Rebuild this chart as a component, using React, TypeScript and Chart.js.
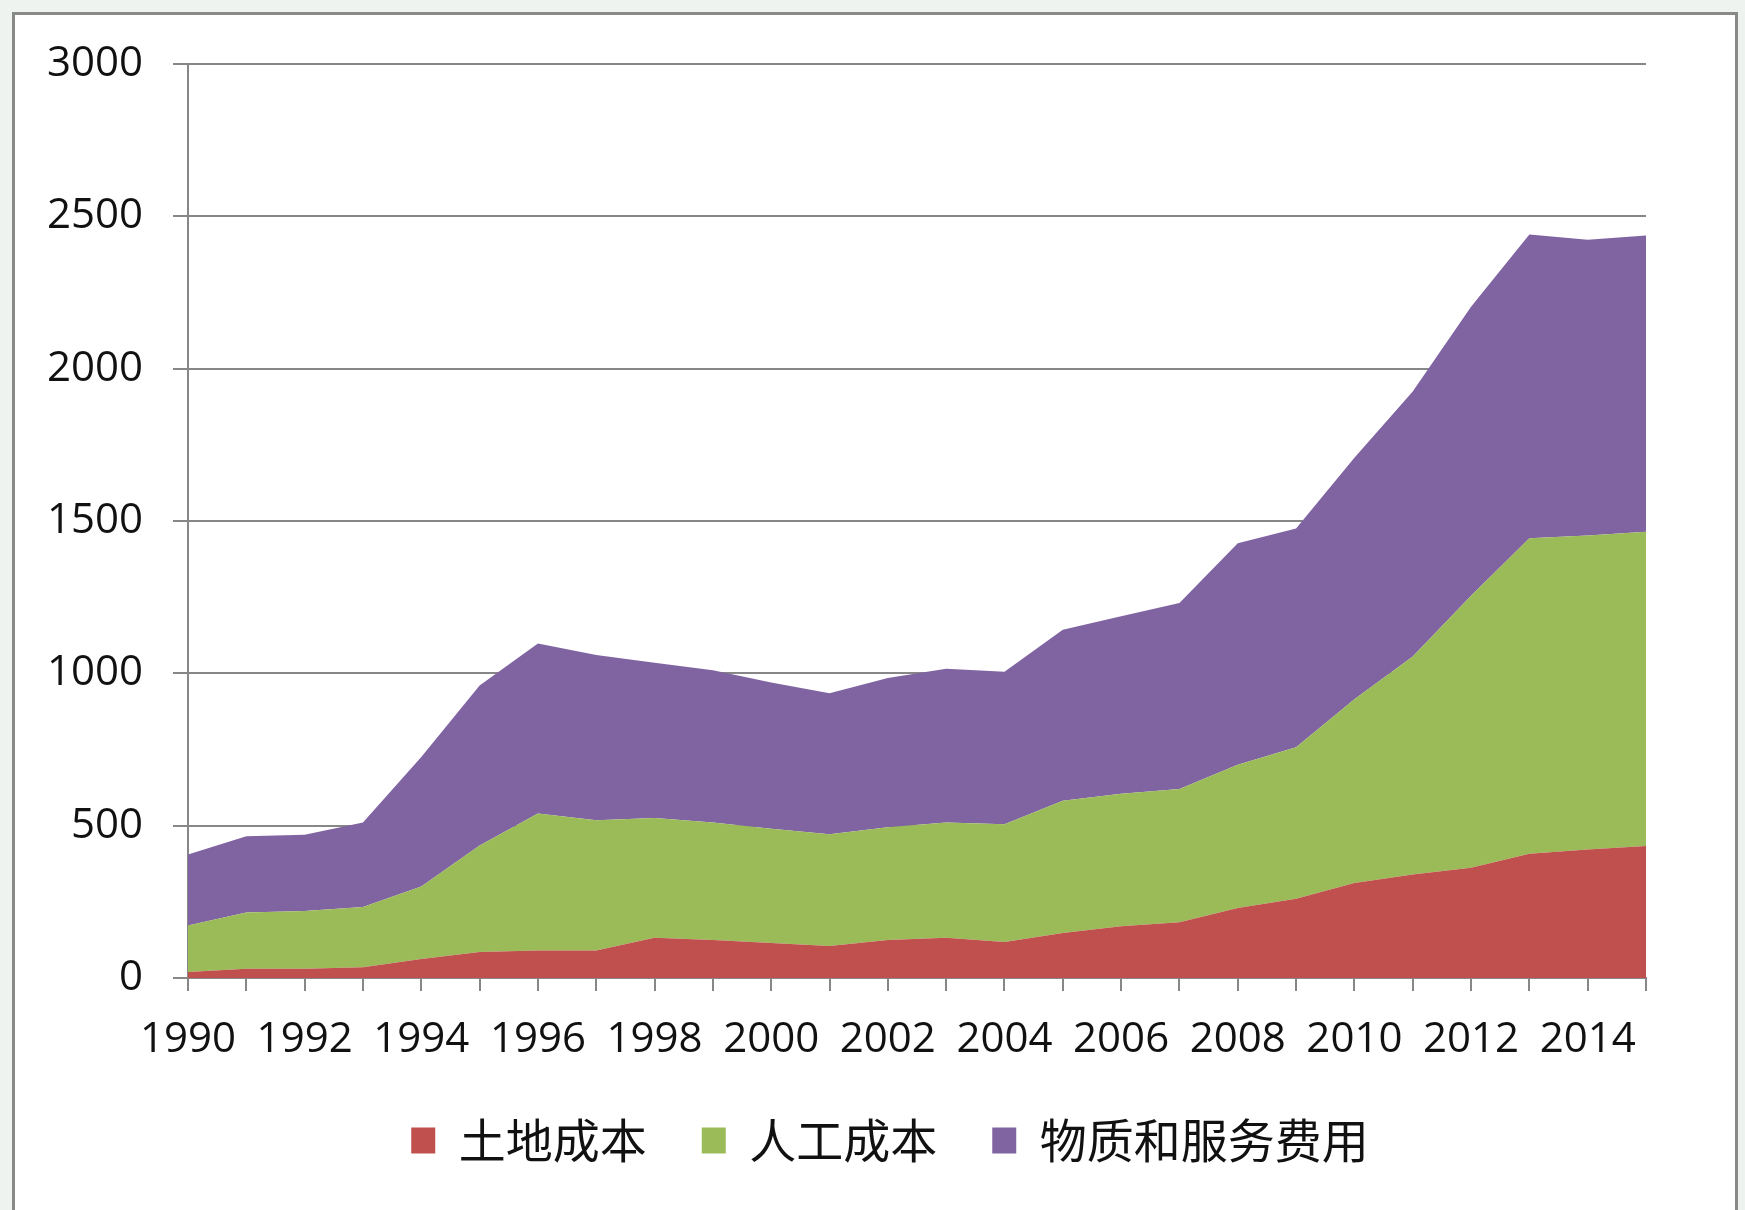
import React, { useEffect, useRef } from 'react';
import { Chart, registerables } from 'chart.js';

Chart.register(...registerables);

const years = [
  '1990', '1991', '1992', '1993', '1994', '1995', '1996', '1997', '1998', '1999',
  '2000', '2001', '2002', '2003', '2004', '2005', '2006', '2007', '2008', '2009',
  '2010', '2011', '2012', '2013', '2014', '2015',
];

// 土地成本
const landCost = [
  20, 30, 30, 35, 62, 85, 90, 90, 132, 125,
  115, 105, 125, 132, 118, 148, 170, 183, 230, 260,
  312, 340, 362, 408, 422, 433,
];

// 人工成本
const laborCost = [
  152, 185, 190, 198, 238, 350, 450, 428, 393, 385,
  375, 367, 370, 378, 387, 434, 435, 437, 470, 497,
  603, 715, 893, 1035, 1030, 1032,
];

// 物质和服务费用
const materialCost = [
  233, 250, 250, 277, 425, 525, 558, 542, 510, 500,
  480, 463, 490, 505, 500, 561, 582, 611, 727, 718,
  793, 870, 948, 997, 971, 972,
];

const seriesNames = ['土地成本', '人工成本', '物质和服务费用'];
const seriesColors = ['#C0504D', '#9BBB59', '#8064A2'];

const yMin = 0;
const yMax = 3000;
const yStep = 500;

const GRID = '#878787';
const LEGEND_SHIFT = 67;

const legendShift = {
  id: 'legendShift',
  afterLayout(chart: any) {
    const lg = chart.legend;
    if (lg) {
      lg.left += LEGEND_SHIFT;
      lg.right += LEGEND_SHIFT;
    }
  },
};

export default function App() {
  const canvasRef = useRef<HTMLCanvasElement | null>(null);

  useEffect(() => {
    const canvas = canvasRef.current;
    if (!canvas) return;
    const values = [landCost, laborCost, materialCost];
    const chart = new Chart(canvas, {
      type: 'line',
      data: {
        labels: years,
        datasets: seriesNames.map((name, i) => ({
          label: name,
          data: values[i],
          backgroundColor: seriesColors[i],
          borderColor: seriesColors[i],
          borderWidth: 0,
          pointRadius: 0,
          pointHoverRadius: 0,
          tension: 0,
          fill: i === 0 ? 'origin' : '-1',
        })),
      },
      plugins: [legendShift],
      options: {
        animation: false,
        responsive: false,
        maintainAspectRatio: false,
        layout: { padding: { left: 0, right: 99, top: 64, bottom: 126 } },
        plugins: {
          tooltip: { enabled: false },
          legend: {
            position: 'bottom',
            labels: {
              color: '#111',
              font: { family: '"Noto Sans CJK SC", sans-serif', size: 47 },
              boxWidth: 24,
              boxHeight: 26,
              padding: 55,
            },
          },
        },
        scales: {
          x: {
            type: 'category',
            offset: false,
            afterFit: (s: any) => {
              s.height = 84;
            },
            grid: {
              drawOnChartArea: false,
              drawTicks: true,
              tickLength: 13,
              color: GRID,
              lineWidth: 2,
            },
            border: { display: true, color: GRID, width: 2 },
            ticks: {
              autoSkip: false,
              maxRotation: 0,
              minRotation: 0,
              padding: 24,
              color: '#111',
              font: { family: '"Open Sans", sans-serif', size: 42 },
              callback: (_v: any, idx: number) => (idx % 2 === 0 ? years[idx] : ''),
            },
          },
          y: {
            stacked: true,
            min: yMin,
            max: yMax,
            afterFit: (s: any) => {
              s.width = 188;
            },
            grid: {
              color: GRID,
              lineWidth: 2,
              tickLength: 15,
              drawTicks: true,
            },
            border: { display: true, color: GRID, width: 2 },
            ticks: {
              stepSize: yStep,
              padding: 30,
              color: '#111',
              font: { family: '"Open Sans", sans-serif', size: 42 },
              callback: (v: any) => String(v),
            },
          },
        },
      },
    });
    return () => chart.destroy();
  }, []);

  return (
    <div
      style={{
        position: 'absolute',
        left: 0,
        top: 0,
        width: 1745,
        height: 1210,
        background: '#EEF3EF',
        overflow: 'hidden',
      }}
    >
      <div
        style={{
          position: 'absolute',
          left: 12,
          top: 12,
          width: 1745 - 12 - 7,
          height: 1300,
          background: '#FFFFFF',
          border: '3px solid #898989',
          boxSizing: 'border-box',
        }}
      />
      <canvas
        ref={canvasRef}
        width={1745}
        height={1300}
        style={{ position: 'absolute', left: 0, top: 0, width: 1745, height: 1300 }}
      />
    </div>
  );
}
